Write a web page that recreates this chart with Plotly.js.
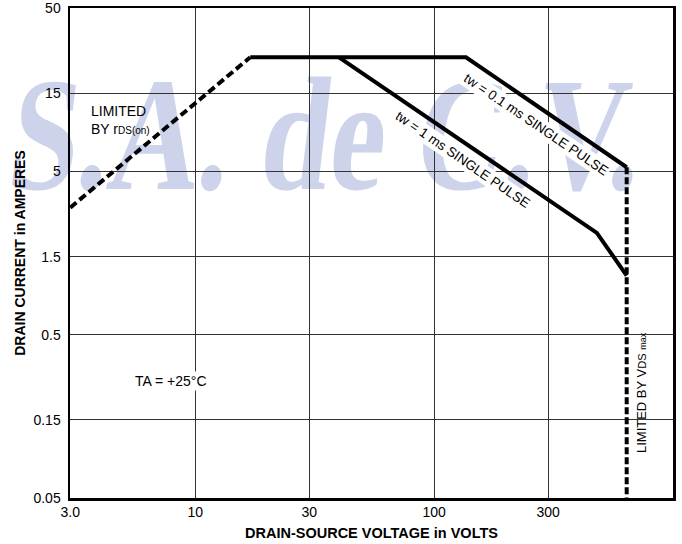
<!DOCTYPE html>
<html>
<head>
<meta charset="utf-8">
<script src="https://cdn.plot.ly/plotly-3.0.1.min.js"></script>
<style>
  html, body { margin:0; padding:0; background:#ffffff; }
  #wrap { position:relative; width:682px; height:544px; overflow:hidden; }
  #wm { position:absolute; left:5px; top:54px; font-family:"Liberation Serif", serif; font-weight:bold; font-style:normal;
        font-size:162px; line-height:1; color:#ccd3ea; white-space:nowrap;
        transform:scaleX(0.765) skewX(-9deg); transform-origin:0 136px; }
  #chart { position:absolute; left:0; top:0; width:682px; height:544px; }
</style>
</head>
<body>
<div id="wrap">
  <div id="wm">S.A. de C.V.</div>
  <div id="chart"></div>
</div>
<script>
// ---- data ----
const rdsV   = [3, 17];
const rdsI   = [3.0, 25];
const p01V   = [17, 136, 640];
const p01I   = [25, 25, 5.3];
const p1V    = [40, 480, 640];
const p1I    = [25, 2.1, 1.15];
const vdsV   = [640, 640];
const vdsI   = [5.3, 0.05];
const xTickVals = [3, 10, 30, 100, 300];
const xTickText = ["3.0", "10", "30", "100", "300"];
const yTickVals = [0.05, 0.15, 0.5, 1.5, 5, 15, 50];
const yTickText = ["0.05", "0.15", "0.5", "1.5", "5", "15", "50"];

const FONT = "Liberation Sans, Arial, sans-serif";

const traces = [
  {x: rdsV, y: rdsI, mode: "lines", line: {color: "#000", width: 4, dash: "8px,4px"}, hoverinfo: "skip"},
  {x: p01V, y: p01I, mode: "lines", line: {color: "#000", width: 4}, hoverinfo: "skip"},
  {x: p1V,  y: p1I,  mode: "lines", line: {color: "#000", width: 4}, hoverinfo: "skip"},
  {x: vdsV, y: vdsI, mode: "lines", line: {color: "#000", width: 4, dash: "7px,3px"}, hoverinfo: "skip"}
];

const layout = {
  width: 682, height: 544,
  margin: {l: 70, r: 9, t: 8, b: 46, pad: 0},
  paper_bgcolor: "rgba(0,0,0,0)",
  plot_bgcolor: "rgba(0,0,0,0)",
  showlegend: false,
  font: {family: FONT, color: "#000", size: 14},
  xaxis: {
    type: "log", range: [Math.log10(3) - 0.001, Math.log10(1000)],
    tickvals: xTickVals, ticktext: xTickText, ticks: "",
    showgrid: true, gridcolor: "#333", gridwidth: 1,
    showline: true, linecolor: "#000", linewidth: 2.5, mirror: true,
    zeroline: false, tickfont: {size: 14, family: FONT},
    title: {text: "<b>DRAIN-SOURCE VOLTAGE in VOLTS</b>", font: {size: 14.5, family: FONT}, standoff: 9}
  },
  yaxis: {
    type: "log", range: [Math.log10(0.05) - 0.001, Math.log10(50) + 0.001],
    tickvals: yTickVals, ticktext: yTickText, ticks: "",
    showgrid: true, gridcolor: "#333", gridwidth: 1,
    showline: true, linecolor: "#000", linewidth: 2.5, mirror: true,
    zeroline: false, tickfont: {size: 14, family: FONT}, ticklabelstandoff: 4,
    title: {text: "<b>DRAIN CURRENT in AMPERES</b>", font: {size: 14, family: FONT}, standoff: 5}
  },
  annotations: [
    {x: 0.556, y: 1.013, xref: "x", yref: "y", xanchor: "left", yanchor: "middle", align: "left", showarrow: false,
     text: "LIMITED<br>BY r<span style='font-size:10px'>DS(on)</span>", font: {size: 14}},
    {x: 0.898, y: -0.585, xref: "x", yref: "y", showarrow: false, bgcolor: "#fff",
     text: "TA = +25°C", font: {size: 14}},
    {x: 2.427, y: 0.989, xref: "x", yref: "y", showarrow: false, textangle: 34, bgcolor: "#fff",
     text: "tw = 0.1 ms SINGLE PULSE", font: {size: 13.5}},
    {x: 2.119, y: 0.772, xref: "x", yref: "y", showarrow: false, textangle: 34.5, bgcolor: "#fff",
     text: "tw = 1 ms SINGLE PULSE", font: {size: 13.5}},
    {x: 2.866, y: -0.653, xref: "x", yref: "y", showarrow: false, textangle: -90,
     text: "LIMITED BY V<span style='font-size:11px'>DS</span> <span style='font-size:9px'>max</span>", font: {size: 13}}
  ]
};

Plotly.newPlot("chart", traces, layout, {staticPlot: true, displayModeBar: false});
</script>
</body>
</html>
